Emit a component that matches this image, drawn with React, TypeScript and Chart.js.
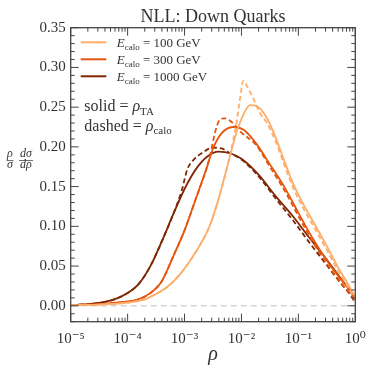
import React, { useEffect, useRef } from "react";
import { Chart, registerables } from "chart.js";

Chart.register(...registerables);

const FONT = "'Liberation Serif', 'DejaVu Serif', serif";
const TEXT = "#333333";
const AXIS = "#444444";

const titleText = "NLL: Down Quarks";
const xTickExponents = [-5, -4, -3, -2, -1, 0];
const yTickValues = [0, 0.05, 0.1, 0.15, 0.2, 0.25, 0.3, 0.35];
const energies = ["100", "300", "1000"];
const colors = ["#fdae6b", "#e6550d", "#7f2704"];

// log10(rho) positions and values
const ta1000LogRho = [-5, -4.7, -4.4, -4.2, -4.0, -3.8, -3.6, -3.4, -3.2, -3.0, -2.8, -2.6, -2.4, -2.2, -2.0, -1.7, -1.4, -1.1, -0.8, -0.5, -0.25, -0.1, 0];
const ta1000Vals = [0.001, 0.002, 0.005, 0.009, 0.016, 0.028, 0.05, 0.081, 0.115, 0.147, 0.172, 0.188, 0.194, 0.192, 0.185, 0.165, 0.138, 0.113, 0.085, 0.058, 0.034, 0.02, 0.009];
const calo1000LogRho = [-5, -4.7, -4.4, -4.2, -4.0, -3.8, -3.6, -3.4, -3.2, -3.05, -2.95, -2.85, -2.7, -2.5, -2.35, -2.2, -2.0, -1.7, -1.4, -1.1, -0.8, -0.5, -0.25, -0.1, 0];
const calo1000Vals = [0.001, 0.002, 0.005, 0.009, 0.016, 0.028, 0.05, 0.081, 0.115, 0.145, 0.172, 0.183, 0.192, 0.199, 0.198, 0.192, 0.184, 0.163, 0.135, 0.108, 0.079, 0.051, 0.028, 0.015, 0.004];

const ta300LogRho = [-5, -4.5, -4.2, -3.84, -3.6, -3.4, -3.2, -3.0, -2.8, -2.6, -2.5, -2.35, -2.15, -1.95, -1.75, -1.5, -1.25, -1.0, -0.75, -0.5, -0.25, -0.1, 0];
const ta300Vals = [0.0008, 0.002, 0.004, 0.0075, 0.016, 0.031, 0.062, 0.095, 0.135, 0.176, 0.198, 0.217, 0.225, 0.221, 0.205, 0.178, 0.15, 0.117, 0.085, 0.057, 0.033, 0.02, 0.008];
const calo300LogRho = [-5, -4.5, -4.2, -3.84, -3.6, -3.4, -3.2, -3.0, -2.8, -2.6, -2.55, -2.45, -2.38, -2.3, -2.2, -2.1, -2.0, -1.75, -1.5, -1.25, -1.0, -0.75, -0.5, -0.25, -0.1, 0];
const calo300Vals = [0.0008, 0.002, 0.004, 0.0075, 0.016, 0.031, 0.062, 0.095, 0.135, 0.176, 0.19, 0.222, 0.234, 0.236, 0.233, 0.226, 0.218, 0.203, 0.175, 0.146, 0.113, 0.081, 0.053, 0.029, 0.016, 0.006];

const ta100LogRho = [-5, -4.5, -4.0, -3.7, -3.5, -3.3, -3.1, -2.9, -2.7, -2.55, -2.4, -2.25, -2.1, -2.0, -1.85, -1.7, -1.55, -1.4, -1.25, -1.1, -0.9, -0.7, -0.5, -0.3, -0.15, 0];
const ta100Vals = [0.0006, 0.0015, 0.004, 0.008, 0.015, 0.024, 0.038, 0.057, 0.08, 0.102, 0.135, 0.175, 0.215, 0.235, 0.2525, 0.25, 0.236, 0.212, 0.183, 0.155, 0.126, 0.101, 0.075, 0.048, 0.03, 0.011];
const calo100LogRho = [-5, -4.5, -4.0, -3.7, -3.5, -3.3, -3.1, -2.9, -2.7, -2.55, -2.4, -2.25, -2.1, -2.03, -1.97, -1.9, -1.8, -1.67, -1.55, -1.4, -1.25, -1.1, -0.9, -0.7, -0.5, -0.3, -0.15, 0];
const calo100Vals = [0.0006, 0.0015, 0.004, 0.008, 0.015, 0.024, 0.038, 0.057, 0.08, 0.102, 0.135, 0.175, 0.225, 0.258, 0.283, 0.276, 0.262, 0.242, 0.23, 0.207, 0.178, 0.15, 0.121, 0.096, 0.07, 0.044, 0.026, 0.009];

const zeroLineLogRho = [-5, 0];
const zeroLineVals = [0, 0];

const SUP: Record<string, string> = { "-": "⁻", "0": "⁰", "1": "¹", "2": "²", "3": "³", "4": "⁴", "5": "⁵", "6": "⁶", "7": "⁷", "8": "⁸", "9": "⁹" };
const sup = (s: string) => s.split("").map((c) => SUP[c] || c).join("");

const pts = (lr: number[], v: number[]) => lr.map((e, i) => ({ x: Math.pow(10, e), y: v[i] }));

type Part = { t: string; size: number; italic?: boolean; dy?: number };

function drawRich(ctx: CanvasRenderingContext2D, x: number, y: number, parts: Part[], align: "left" | "center" = "left") {
  ctx.textBaseline = "alphabetic";
  ctx.textAlign = "left";
  const fontOf = (p: Part) => `${p.italic ? "italic " : ""}${p.size}px ${FONT}`;
  let total = 0;
  for (const p of parts) {
    ctx.font = fontOf(p);
    total += ctx.measureText(p.t).width;
  }
  let cx = align === "center" ? x - total / 2 : x;
  for (const p of parts) {
    ctx.font = fontOf(p);
    ctx.fillText(p.t, cx, y + (p.dy || 0));
    cx += ctx.measureText(p.t).width;
  }
}

const decorPlugin = {
  id: "decor",
  afterDraw(chart: any) {
    const ctx: CanvasRenderingContext2D = chart.ctx;
    const { left, right, top, bottom } = chart.chartArea;
    const xs = chart.scales.x;
    const ys = chart.scales.y;
    ctx.save();
    ctx.strokeStyle = AXIS;
    ctx.lineWidth = 1.3;
    ctx.strokeRect(left, top, right - left, bottom - top);
    ctx.lineWidth = 1;
    const tick = (x1: number, y1: number, x2: number, y2: number) => {
      ctx.beginPath();
      ctx.moveTo(x1, y1);
      ctx.lineTo(x2, y2);
      ctx.stroke();
    };
    for (let e = -5; e <= 0; e++) {
      const px = xs.getPixelForValue(Math.pow(10, e));
      tick(px, bottom, px, bottom - 8);
      tick(px, top, px, top + 8);
      if (e < 0) {
        for (let k = 2; k <= 9; k++) {
          const mx = xs.getPixelForValue(k * Math.pow(10, e));
          tick(mx, bottom, mx, bottom - 4);
          tick(mx, top, mx, top + 4);
        }
      }
    }
    for (let i = -2; i <= 35; i++) {
      const v = i / 100;
      const py = ys.getPixelForValue(v);
      const major = i % 5 === 0;
      const len = major ? 8 : 4;
      tick(left, py, left + len, py);
      tick(right, py, right - len, py);
    }
    ctx.fillStyle = TEXT;
    drawRich(ctx, (left + right) / 2, 22, [{ t: titleText, size: 18 }], "center");
    energies.forEach((en, i) => {
      const ly = 42.3 + i * 17;
      ctx.strokeStyle = colors[i];
      ctx.lineWidth = 2;
      ctx.setLineDash([]);
      tick(80.7, ly, 106.3, ly);
      ctx.fillStyle = TEXT;
      drawRich(ctx, 116.7, ly + 4.5, [
        { t: "E", size: 13, italic: true },
        { t: "calo", size: 9, dy: 3 },
        { t: ` = ${en} GeV`, size: 13 },
      ]);
    });
    ctx.fillStyle = TEXT;
    drawRich(ctx, 84.3, 111, [
      { t: "solid = ", size: 16 },
      { t: "ρ", size: 16, italic: true },
      { t: "TA", size: 11, dy: 3.5 },
    ]);
    drawRich(ctx, 84.3, 130.5, [
      { t: "dashed = ", size: 16 },
      { t: "ρ", size: 16, italic: true },
      { t: "calo", size: 11, dy: 3.5 },
    ]);
    drawRich(ctx, 10, 156.5, [{ t: "ρ", size: 12, italic: true }], "center");
    drawRich(ctx, 10, 168, [{ t: "σ", size: 12, italic: true }], "center");
    drawRich(ctx, 26, 156.5, [{ t: "dσ", size: 12, italic: true }], "center");
    drawRich(ctx, 26, 168, [{ t: "dρ", size: 12, italic: true }], "center");
    ctx.strokeStyle = TEXT;
    ctx.lineWidth = 0.7;
    tick(6.5, 160.5, 13.5, 160.5);
    tick(19, 160.5, 33, 160.5);
    ctx.restore();
  },
};

export default function App() {
  const ref = useRef<HTMLCanvasElement | null>(null);
  useEffect(() => {
    if (!ref.current) return;
    const line = (label: string, data: any, color: string, dashed: boolean) => ({
      label,
      data,
      borderColor: color,
      backgroundColor: color,
      borderWidth: 1.8,
      borderDash: dashed ? [5, 3] : [],
      pointRadius: 0,
      fill: false,
      cubicInterpolationMode: "monotone" as const,
    });
    const chart = new Chart(ref.current, {
      type: "line",
      data: {
        datasets: [
          line("ρTA 100 GeV", pts(ta100LogRho, ta100Vals), colors[0], false),
          line("ρcalo 100 GeV", pts(calo100LogRho, calo100Vals), colors[0], true),
          line("ρTA 300 GeV", pts(ta300LogRho, ta300Vals), colors[1], false),
          line("ρcalo 300 GeV", pts(calo300LogRho, calo300Vals), colors[1], true),
          line("ρTA 1000 GeV", pts(ta1000LogRho, ta1000Vals), colors[2], false),
          line("ρcalo 1000 GeV", pts(calo1000LogRho, calo1000Vals), colors[2], true),
          {
            label: "zero",
            data: pts(zeroLineLogRho, zeroLineVals),
            borderColor: "#d4d4d4",
            borderWidth: 1.4,
            borderDash: [6, 4],
            pointRadius: 0,
            fill: false,
          },
        ],
      },
      options: {
        animation: false,
        responsive: false,
        parsing: false as any,
        layout: { padding: { left: 0, right: 18.7, top: 27.7, bottom: 0 } },
        plugins: { legend: { display: false }, tooltip: { enabled: false }, title: { display: false } },
        scales: {
          x: {
            type: "logarithmic",
            min: 1e-5,
            max: 1,
            grid: { display: false, drawTicks: false },
            border: { display: false },
            ticks: {
              color: TEXT,
              font: { family: FONT, size: 15 },
              padding: 8,
              autoSkip: false,
              maxRotation: 0,
              callback: (v: any) => "10" + sup(String(Math.round(Math.log10(Number(v))))),
            },
            afterBuildTicks: (s: any) => {
              s.ticks = xTickExponents.map((e) => ({ value: Math.pow(10, e) }));
            },
            afterFit: (s: any) => {
              s.height = 52.3;
            },
            title: {
              display: true,
              text: "ρ",
              color: TEXT,
              font: { family: FONT, size: 20, style: "italic" },
              padding: { top: 0, bottom: 7 },
            },
          },
          y: {
            type: "linear",
            min: -0.02,
            max: 0.35,
            grid: { display: false, drawTicks: false },
            border: { display: false },
            ticks: {
              color: TEXT,
              font: { family: FONT, size: 15 },
              padding: 5,
              callback: (v: any) => Number(v).toFixed(2),
            },
            afterBuildTicks: (s: any) => {
              s.ticks = yTickValues.map((v) => ({ value: v }));
            },
            afterFit: (s: any) => {
              s.width = 70.7;
            },
          },
        },
      },
      plugins: [decorPlugin],
    });
    return () => chart.destroy();
  }, []);
  return (
    <div style={{ position: "absolute", left: 0, top: 0, width: 374, height: 374, background: "#fff" }}>
      <canvas ref={ref} width={374} height={374} style={{ display: "block" }} />
    </div>
  );
}
